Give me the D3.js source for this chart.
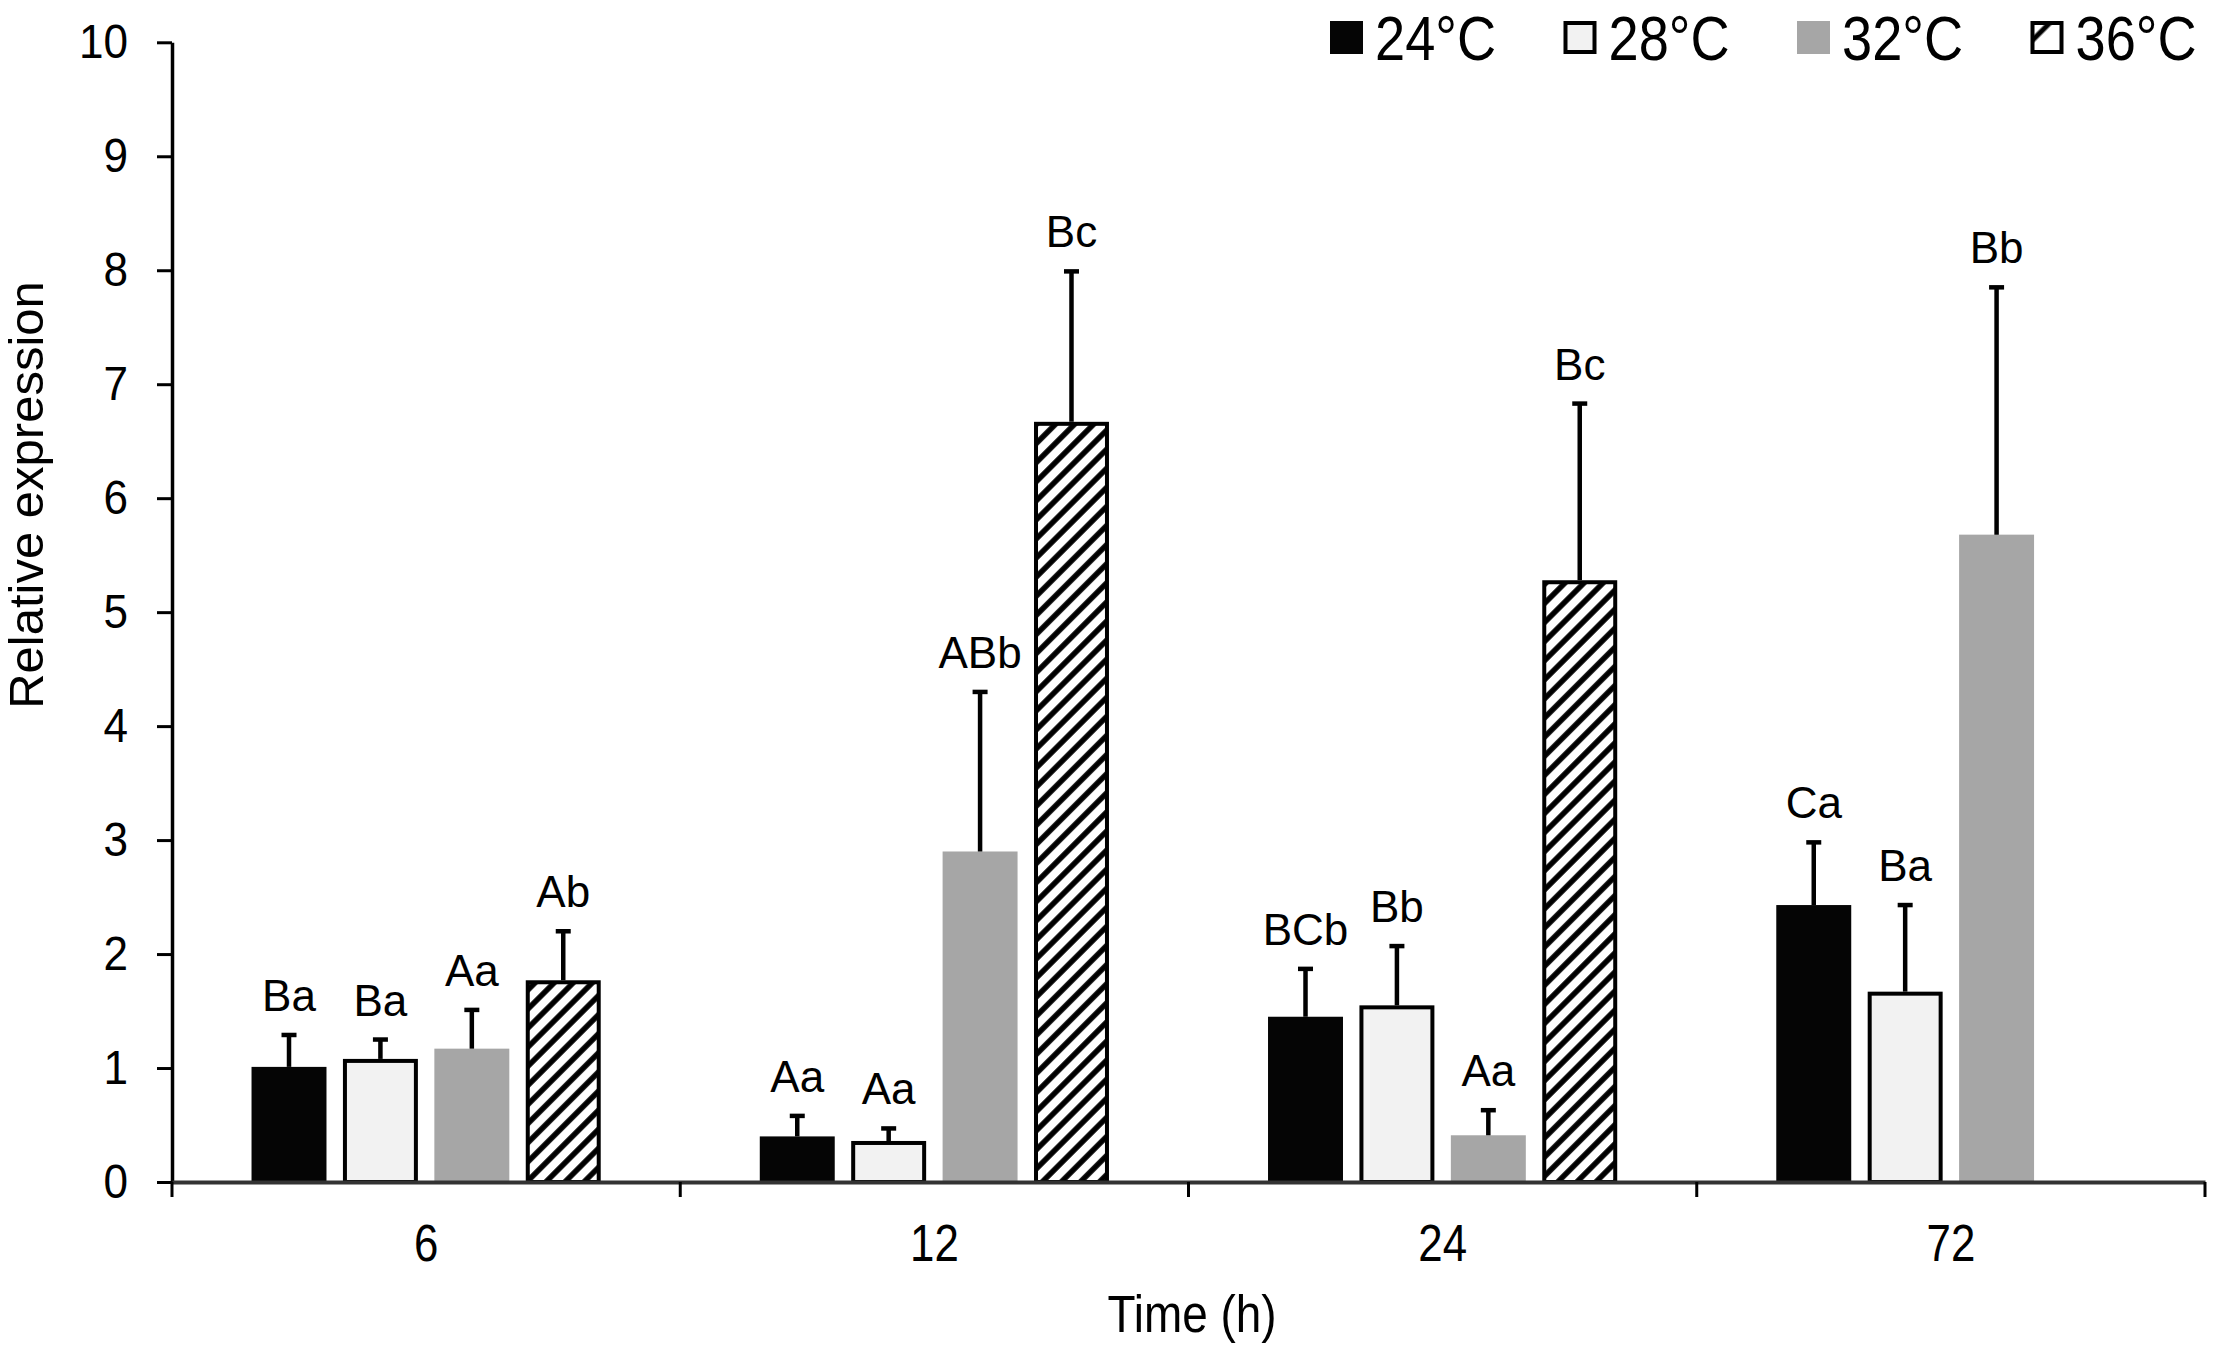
<!DOCTYPE html>
<html>
<head>
<meta charset="utf-8">
<script src="https://cdn.jsdelivr.net/npm/d3@7"></script>
<style>
  body { margin: 0; background: #fff; }
  text { font-family: "Liberation Sans", Arial, sans-serif; fill: #000; }
</style>
</head>
<body>
<div id="chart"></div>
<script>
// Data
const categories = ['6', '12', '24', '72'];
const series = ['24°C', '28°C', '32°C', '36°C'];

const values24 = [1.01, 0.40, 1.45, 2.43];
const errors24 = [0.28, 0.18, 0.42, 0.55];
const letters24 = ['Ba', 'Aa', 'BCb', 'Ca'];

const values28 = [1.08, 0.36, 1.55, 1.67];
const errors28 = [0.17, 0.11, 0.52, 0.76];
const letters28 = ['Ba', 'Aa', 'Bb', 'Ba'];

const values32 = [1.17, 2.90, 0.41, 5.68];
const errors32 = [0.34, 1.40, 0.22, 2.17];
const letters32 = ['Aa', 'ABb', 'Aa', 'Bb'];

const values36 = [1.77, 6.67, 5.28, null];
const errors36 = [0.43, 1.32, 1.55, null];
const letters36 = ['Ab', 'Bc', 'Bc', null];

const yTicks = [0, 1, 2, 3, 4, 5, 6, 7, 8, 9, 10];

// Flatten into rows for drawing
const table = [
    [values24, errors24, letters24],
    [values28, errors28, letters28],
    [values32, errors32, letters32],
    [values36, errors36, letters36]
];
const rows = [];
series.forEach((s, i) => {
    categories.forEach((c, j) => {
        if (table[i][0][j] == null) return;
        rows.push({ cat: c, series: s, value: table[i][0][j], err: table[i][1][j], letter: table[i][2][j] });
    });
});

const width = 2217, height = 1349;
const plotLeft = 172, plotRight = 2205, plotBottom = 1182, plotTop = 42.3;

const svg = d3.select('#chart').append('svg')
    .attr('width', width)
    .attr('height', height);

// Hatch patterns
const defs = svg.append('defs');
function hatch(id, size, sw) {
    const p = defs.append('pattern')
        .attr('id', id)
        .attr('patternUnits', 'userSpaceOnUse')
        .attr('width', size)
        .attr('height', size)
        .attr('patternTransform', 'rotate(45)');
    p.append('rect').attr('width', size).attr('height', size).attr('fill', '#fff');
    p.append('line')
        .attr('x1', size / 2).attr('y1', 0)
        .attr('x2', size / 2).attr('y2', size)
        .attr('stroke', '#000')
        .attr('stroke-width', sw);
}
hatch('hatch', 13.5, 5.5);
hatch('hatchLegend', 30, 5);

const fills = { '24°C': '#050505', '28°C': '#f2f2f2', '32°C': '#a6a6a6', '36°C': 'url(#hatch)' };
const outlined = { '24°C': false, '28°C': true, '32°C': false, '36°C': true };

// Scales
const x0 = d3.scaleBand()
    .domain(categories)
    .range([plotLeft, plotRight])
    .padding(0);

const x1 = d3.scaleBand()
    .domain(series)
    .range([0, x0.bandwidth()])
    .paddingInner(0.18)
    .paddingOuter(0.87);

const y = d3.scaleLinear()
    .domain([0, 10])
    .range([plotBottom, plotTop]);

// Bars
const sw = 4;
svg.append('g').selectAll('rect')
    .data(rows)
    .enter().append('rect')
    .attr('x', d => x0(d.cat) + x1(d.series) + (outlined[d.series] ? sw / 2 : 0))
    .attr('width', d => x1.bandwidth() - (outlined[d.series] ? sw : 0))
    .attr('y', d => y(d.value) + (outlined[d.series] ? sw / 2 : 0))
    .attr('height', d => plotBottom - y(d.value) - (outlined[d.series] ? sw / 2 : 0))
    .attr('fill', d => fills[d.series])
    .attr('stroke', d => outlined[d.series] ? '#000' : 'none')
    .attr('stroke-width', sw);

// Error bars (upper only)
const cx = d => x0(d.cat) + x1(d.series) + x1.bandwidth() / 2;
const errG = svg.append('g').attr('stroke', '#000').attr('stroke-width', 4.5);
errG.selectAll('.stem')
    .data(rows)
    .enter().append('line')
    .attr('class', 'stem')
    .attr('x1', cx).attr('x2', cx)
    .attr('y1', d => y(d.value))
    .attr('y2', d => y(d.value + d.err));
errG.selectAll('.cap')
    .data(rows)
    .enter().append('line')
    .attr('class', 'cap')
    .attr('x1', d => cx(d) - 7.5).attr('x2', d => cx(d) + 7.5)
    .attr('y1', d => y(d.value + d.err))
    .attr('y2', d => y(d.value + d.err));

// Significance letters
svg.append('g').selectAll('text')
    .data(rows)
    .enter().append('text')
    .attr('x', cx)
    .attr('y', d => y(d.value + d.err) - 24)
    .attr('text-anchor', 'middle')
    .style('font-size', '44px')
    .text(d => d.letter);

// Y axis
const yAxis = svg.append('g')
    .attr('transform', 'translate(' + plotLeft + ',0)')
    .call(d3.axisLeft(y).tickValues(yTicks).tickSize(15).tickSizeOuter(0));
yAxis.select('.domain').attr('stroke', '#000').attr('stroke-width', 3.5);
yAxis.selectAll('.tick line').attr('stroke', '#000').attr('stroke-width', 3);
yAxis.selectAll('.tick text')
    .attr('x', 0)
    .attr('transform', 'translate(-44,0) scale(0.9,1)')
    .style('font-size', '49px')
    .attr('fill', '#000');

// X axis
const xAxis = svg.append('g')
    .attr('transform', 'translate(0,' + plotBottom + ')')
    .call(d3.axisBottom(x0).tickSize(0).tickSizeOuter(0));
xAxis.select('.domain').attr('stroke', '#333').attr('stroke-width', 4);
xAxis.selectAll('.tick text')
    .attr('y', 0)
    .attr('transform', 'translate(0,43) scale(0.86,1)')
    .style('font-size', '51px')
    .attr('fill', '#000');

// Tick marks at the group boundaries
const edges = [x0.range()[0]].concat(categories.map(d => x0(d) + x0.bandwidth()));
svg.append('g').selectAll('line')
    .data(edges)
    .enter().append('line')
    .attr('x1', d => d).attr('x2', d => d)
    .attr('y1', plotBottom).attr('y2', plotBottom + 15)
    .attr('stroke', '#000')
    .attr('stroke-width', 3);

// Axis titles
svg.append('text')
    .attr('transform', 'translate(1192,1332) scale(0.9,1)')
    .attr('text-anchor', 'middle')
    .style('font-size', '51px')
    .text('Time (h)');

svg.append('text')
    .attr('transform', 'translate(43,495) rotate(-90)')
    .attr('text-anchor', 'middle')
    .style('font-size', '49px')
    .text('Relative expression');

// Legend
const legend = svg.append('g').selectAll('g')
    .data(series)
    .enter().append('g')
    .attr('transform', (d, i) => 'translate(' + (1330 + i * 233.5) + ',21)');

legend.append('rect')
    .attr('x', d => outlined[d] ? 2 : 0)
    .attr('y', d => outlined[d] ? 2 : 0)
    .attr('width', d => outlined[d] ? 29 : 33)
    .attr('height', d => outlined[d] ? 29 : 33)
    .attr('fill', d => d === '36°C' ? 'url(#hatchLegend)' : fills[d])
    .attr('stroke', d => outlined[d] ? '#000' : 'none')
    .attr('stroke-width', 4);

legend.append('text')
    .attr('transform', 'translate(45,39) scale(0.86,1)')
    .style('font-size', '63px')
    .text(d => d);
</script>
</body>
</html>
